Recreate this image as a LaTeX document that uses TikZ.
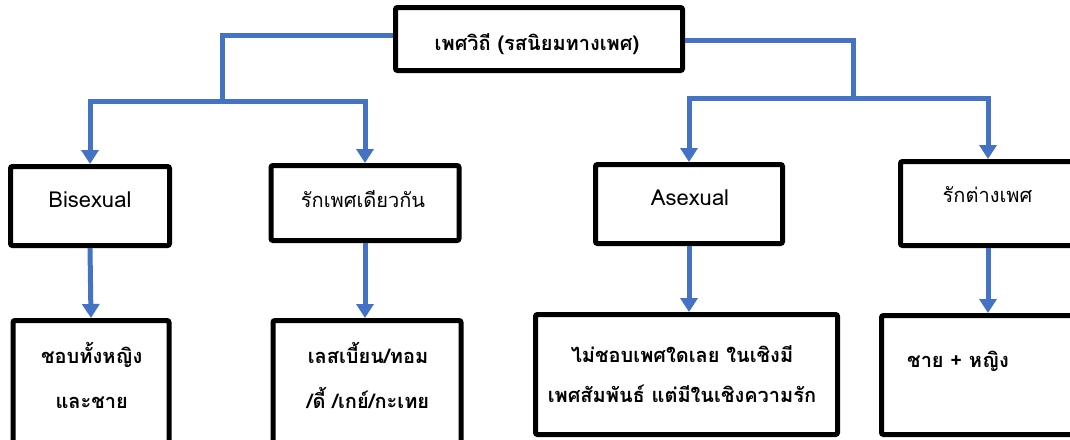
\documentclass[tikz,border=0pt]{standalone}
\usepackage{fontspec}
\setmainfont{Loma}[Script=Thai]
\usetikzlibrary{arrows.meta}
\definecolor{connblue}{HTML}{4472C4}
\tikzset{
  box/.style 2 args={draw=black, line width=3.75pt, rounded corners=1.5pt, inner sep=0pt,
    minimum width=#1*0.75pt, minimum height=#2*0.75pt},
  lbl/.style={anchor=base, inner sep=0pt, align=center, font=\fontsize{15}{33.75}\selectfont},
  latlbl/.style={lbl, font=\fontsize{16.5}{20}\selectfont},
  blbl/.style={lbl, font=\fontsize{15}{33.75}\selectfont\bfseries},
  conn/.style={draw=connblue, line width=3.75pt},
  arr/.style={conn, -{Triangle[width=12.75pt, length=10.5pt]}},
}
\begin{document}
\begin{tikzpicture}[x=0.75pt, y=-0.75pt]
\useasboundingbox (0,0) rectangle (1070,439);
\clip (0,0) rectangle (1070,439);
% boxes
\node[box={287}{63}] (top) at (539,39) {};
\node[box={159}{79}] (bi) at (90,206) {};
\node[box={188}{75}] (same) at (365,203) {};
\node[box={187}{79}] (asex) at (689,204) {};
\node[box={175}{84}] (het) at (988,203.5) {};
\node[box={156}{127}] (b1) at (91,384) {};
\node[box={188}{127}] (b2) at (367,384) {};
\node[box={302}{120}] (b3) at (686.5,374.5) {};
\node[box={197}{119}] (b4) at (980,375) {};
% texts
\node[blbl] (ttop) at (537,50) {เพศวิถี (รสนิยมทางเพศ)};
\node[latlbl] (tbi) at (90,207) {Bisexual};
\node[lbl] (tsame) at (363,207) {รักเพศเดียวกัน};
\node[latlbl] (tasex) at (690,205) {Asexual};
\node[lbl] (thet) at (987.5,202) {รักต่างเพศ};
\node[blbl] (tb1) at (91.7,408) {ชอบทั้งหญิง\\และชาย};
\node[blbl] (tb2) at (368,408) {เลสเบี้ยน/ทอม\\/ดี้ /เกย์/กะเทย};
\node[blbl, font=\fontsize{15}{30}\selectfont\bfseries] (tb3) at (682,402) {ไม่ชอบเพศใดเลย ในเชิงมี\\เพศสัมพันธ์ แต่มีในเชิงความรัก};
\node[blbl] (tb4) at (958,367) {ชาย + หญิง};
% connectors
\coordinate (L1) at (222,35);
\coordinate (L2) at (222,101);
\coordinate (R1) at (853,40);
\coordinate (R2) at (853,98);
\draw[conn] (top.west |- L1) -- (L1) -- (L2);
\draw[arr] (L2) -| (bi.north);
\draw[arr] (L2) -| (same.north);
\draw[conn] (top.east |- R1) -- (R1) -- (R2);
\draw[arr] (R2) -| (asex.north);
\draw[arr] (R2) -| (het.north);
\draw[arr] (bi.south) -- (b1.north);
\draw[arr] (same.south) -- (same.south |- b2.north);
\draw[arr] (asex.south) -- (asex.south |- b3.north);
\draw[arr] (het.south) -- (het.south |- b4.north);
\end{tikzpicture}
\end{document}
